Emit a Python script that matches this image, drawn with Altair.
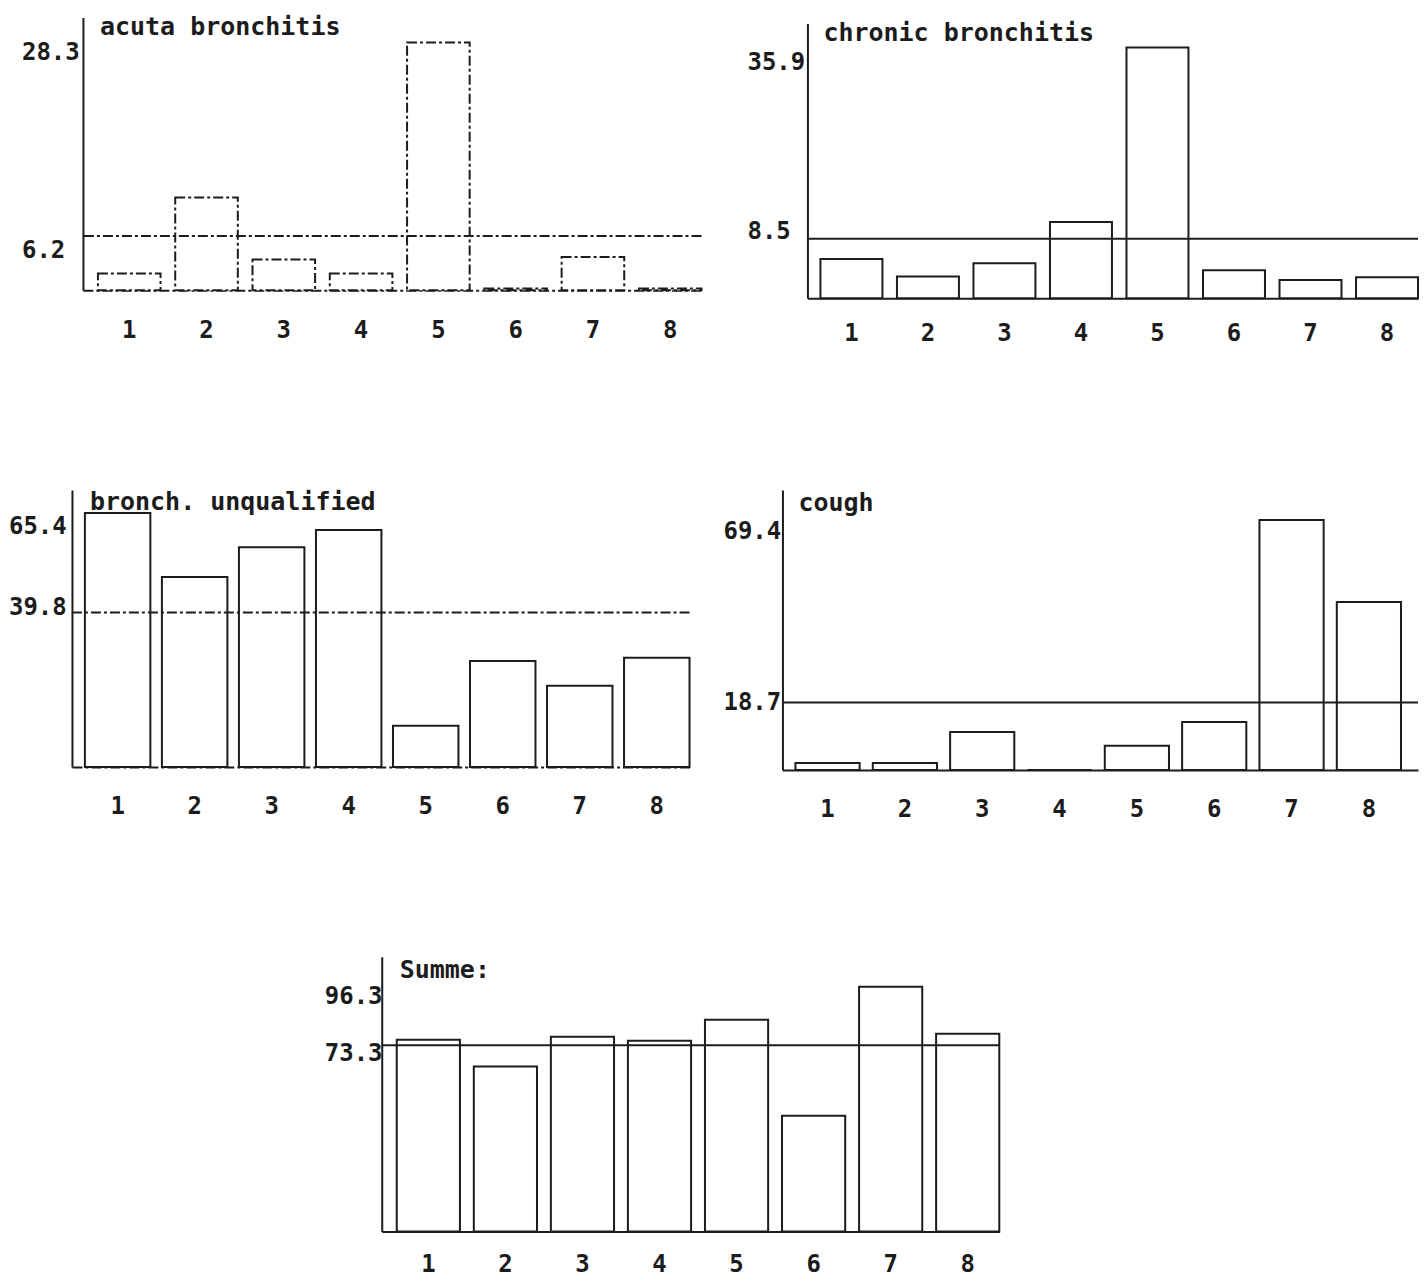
import altair as alt
import pandas as pd

# ---------------- data ----------------
CATS = ["1", "2", "3", "4", "5", "6", "7", "8"]
TITLES = ["acuta bronchitis", "chronic bronchitis", "bronch. unqualified", "cough", "Summe:"]
ACUTE = [1.9, 10.6, 3.5, 1.9, 28.3, 0.2, 3.8, 0.2]
CHRONIC = [5.6, 3.1, 5.0, 10.9, 35.9, 4.0, 2.6, 3.0]
UNQUAL = [65.4, 48.9, 56.6, 61.0, 10.6, 27.3, 20.9, 28.1]
COUGH = [1.9, 1.9, 10.5, 0.0, 6.7, 13.3, 69.4, 46.6]
SUMME = [75.5, 64.9, 76.6, 75.1, 83.3, 45.6, 96.3, 77.8]
MEANS = [6.2, 8.5, 39.8, 18.7, 73.3]

FONT = "DejaVu Sans Mono"
INK = "#1c1c1c"
WEIGHT = "bold"


def spacer(w, h=1):
    return alt.Chart(pd.DataFrame({"a": [0]})).mark_rule(opacity=0).encode(
        x=alt.value(0), x2=alt.value(w), y=alt.value(0)
    ).properties(width=w, height=h)


def panel(title, values, mean, W, H, top, L, T, B, pin, pout, palign,
          lab_x, dy_max, dy_mean, lab_pad, title_x, title_y,
          bar_dash=None, mean_dash=None, x_dash=None):
    df = pd.DataFrame({"cat": CATS, "value": values})
    yscale = alt.Scale(domain=[0, top], nice=False, zero=True)
    yaxis = alt.Axis(title=None, labels=False, ticks=False, grid=False,
                     domainColor=INK, domainWidth=2)

    xaxis_kw = dict(title=None, labelAngle=0, ticks=False, tickSize=0,
                    labelPadding=lab_pad, labelBaseline="middle",
                    labelFont=FONT, labelFontSize=24, labelFontWeight=WEIGHT,
                    labelColor=INK, domainColor=INK, domainWidth=2, grid=False)
    if x_dash:
        xaxis_kw["domainDash"] = x_dash
    x = alt.X("cat:O", sort=CATS,
              scale=alt.Scale(paddingInner=pin, paddingOuter=pout, align=palign),
              axis=alt.Axis(**xaxis_kw))

    # invisible anchor that fixes the panel's layout extent
    anchor = alt.Chart(pd.DataFrame({"a": [0]})).mark_rule(
        opacity=0, strokeWidth=1
    ).encode(x=alt.value(-L), y=alt.value(-T), y2=alt.value(B))

    bar_kw = dict(fill="white", stroke=INK, strokeWidth=2)
    if bar_dash:
        bar_kw["strokeDash"] = bar_dash
    bars = alt.Chart(df).mark_bar(**bar_kw).encode(
        x=x, y=alt.Y("value:Q", scale=yscale, axis=yaxis)
    )

    rule_kw = dict(color=INK, strokeWidth=2)
    if mean_dash:
        rule_kw["strokeDash"] = mean_dash
    mean_df = pd.DataFrame({"value": [mean]})
    mean_rule = alt.Chart(mean_df).mark_rule(**rule_kw).encode(
        y=alt.Y("value:Q", scale=yscale, axis=yaxis)
    )

    txt_kw = dict(align="left", baseline="middle", font=FONT, fontSize=24,
                  fontWeight=WEIGHT, color=INK)
    max_df = pd.DataFrame({"value": [max(values)]})
    max_lab = alt.Chart(max_df).mark_text(dy=dy_max, **txt_kw).encode(
        x=alt.value(lab_x), y=alt.Y("value:Q", scale=yscale, axis=yaxis),
        text=alt.Text("value:Q", format=".1f"))
    mean_lab = alt.Chart(mean_df).mark_text(dy=dy_mean, **txt_kw).encode(
        x=alt.value(lab_x), y=alt.Y("value:Q", scale=yscale, axis=yaxis),
        text=alt.Text("value:Q", format=".1f"))

    ttl = alt.Chart(pd.DataFrame({"t": [title]})).mark_text(
        align="left", baseline="middle", font=FONT, fontSize=25,
        fontWeight=WEIGHT, color=INK
    ).encode(x=alt.value(title_x), y=alt.value(title_y), text="t:N")

    return alt.layer(anchor, bars, mean_rule, max_lab, mean_lab, ttl).properties(
        width=W, height=H
    )


DASHDOT = [10, 3, 3, 3]

p1 = panel(TITLES[0], ACUTE, MEANS[0], W=619, H=273, top=31.15, L=74, T=9, B=381,
           pin=0.19, pout=0.097, palign=1.0, lab_x=-61, dy_max=11, dy_mean=15,
           lab_pad=40, title_x=17, title_y=10,
           bar_dash=DASHDOT, mean_dash=DASHDOT, x_dash=DASHDOT)
p2 = panel(TITLES[1], CHRONIC, MEANS[1], W=611, H=275, top=39.33, L=105, T=3, B=370,
           pin=0.19, pout=0.085, palign=1.0, lab_x=-60, dy_max=16, dy_mean=-7,
           lab_pad=35, title_x=16, title_y=10)
p3 = panel(TITLES[2], UNQUAL, MEANS[2], W=618, H=277, top=71.3, L=63, T=92, B=418,
           pin=0.15, pout=0.084, palign=1.0, lab_x=-63, dy_max=14, dy_mean=-4,
           lab_pad=40, title_x=18, title_y=12,
           mean_dash=DASHDOT, x_dash=DASHDOT)
p4 = panel(TITLES[3], COUGH, MEANS[3], W=636, H=280, top=77.7, L=92, T=92, B=418,
           pin=0.17, pout=0.194, palign=0.433, lab_x=-59, dy_max=12, dy_mean=0,
           lab_pad=40, title_x=16, title_y=13)
p5 = panel(TITLES[4], SUMME, MEANS[4], W=618, H=275, top=108.1, L=373, T=49, B=275,
           pin=0.18, pout=0.0975, palign=1.0, lab_x=-57, dy_max=10, dy_mean=9,
           lab_pad=33, title_x=18, title_y=13)

p2_col = alt.vconcat(spacer(1, 3), p2, spacing=0)

row1 = alt.hconcat(spacer(1), p1, p2_col, spacing=0)
row2 = alt.hconcat(spacer(1), p3, p4, spacing=0)
row3 = alt.hconcat(spacer(1), p5, spacing=0)
chart = alt.vconcat(row1, row2, row3, spacing=0).properties(
    padding=0, background="white"
).configure_view(strokeWidth=0)

chart.save("out.html", embed_options={"renderer": "svg", "actions": False})
